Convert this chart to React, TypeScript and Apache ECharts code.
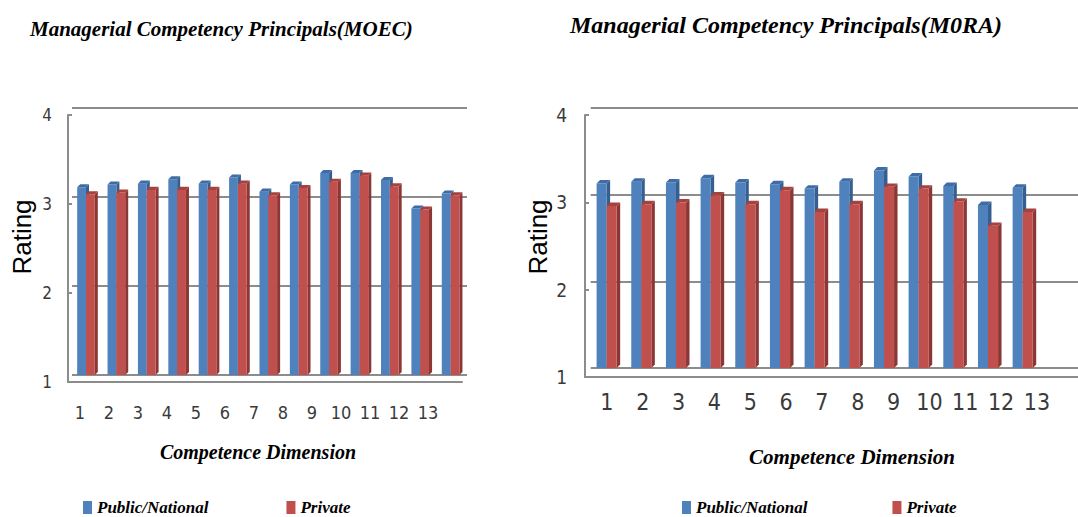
import React, { useEffect, useRef } from "react";
import * as echarts from "echarts";

const categories = ["1", "2", "3", "4", "5", "6", "7", "8", "9", "10", "11", "12", "13"];
const moecPublic = [3.11, 3.14, 3.15, 3.2, 3.15, 3.22, 3.06, 3.14, 3.27, 3.27, 3.19, 2.87, 3.04];
const moecPrivate = [3.03, 3.05, 3.08, 3.08, 3.08, 3.15, 3.02, 3.1, 3.17, 3.24, 3.12, 2.86, 3.02];
const moraPublic = [3.13, 3.15, 3.14, 3.19, 3.14, 3.12, 3.07, 3.15, 3.28, 3.21, 3.1, 2.88, 3.08];
const moraPrivate = [2.87, 2.89, 2.91, 2.99, 2.89, 3.05, 2.8, 2.89, 3.09, 3.07, 2.92, 2.64, 2.8];
const seriesNames = ["Public/National", "Private"];
const titles = ["Managerial Competency Principals(MOEC)", "Managerial Competency Principals(M0RA)"];

const PAL = [
  { front: "#4F81BD", side: "#365f91", top: "#3f6ca6" },
  { front: "#C0504D", side: "#8c3735", top: "#a8413e" },
];

const SERIF = "'Liberation Serif', 'Times New Roman', serif";
const NARROW = "'Liberation Sans Narrow', 'DejaVu Sans Condensed', sans-serif";
const SANS = "'Liberation Sans', 'Open Sans', sans-serif";

function bar3d(idx: number) {
  return (params: any, api: any) => {
    const cat = api.value(0);
    const v = api.value(1);
    const bw = api.size([1, 0])[0];
    const top = api.coord([cat, v]);
    const base = api.coord([cat, 1]);
    const w = bw * 0.29;
    const d = bw * 0.1;
    const x0 = top[0] - bw * 0.33 + idx * w;
    const c = PAL[idx];
    return {
      type: "group",
      children: [
        {
          type: "polygon",
          shape: { points: [[x0 + w, top[1]], [x0 + w + d, top[1] - d], [x0 + w + d, base[1] - d], [x0 + w, base[1]]] },
          style: { fill: c.side },
        },
        {
          type: "rect",
          shape: { x: x0, y: top[1], width: w, height: base[1] - top[1] },
          style: { fill: c.front },
        },
        {
          type: "polygon",
          shape: { points: [[x0, top[1]], [x0 + d, top[1] - d], [x0 + w + d, top[1] - d], [x0 + w, top[1]]] },
          style: { fill: c.top },
        },
      ],
    };
  };
}

function barSeries(name: string, idx: number, axis: number, values: number[]) {
  return {
    type: "custom",
    name,
    xAxisIndex: axis,
    yAxisIndex: axis,
    itemStyle: { color: PAL[idx].front },
    encode: { x: 0, y: 1 },
    data: values.map((v, i) => [i + 1, v]),
    renderItem: bar3d(idx),
  };
}

const GRAY = "#8c8c8c";

export default function App() {
  const ref = useRef<HTMLDivElement>(null);
  useEffect(() => {
    if (!ref.current) return;
    const chart = echarts.init(ref.current, undefined, { renderer: "svg" });
    const backX = (grid: number, max: number) => ({ type: "value", gridIndex: grid, min: 0.5, max, show: false });
    const backY = (grid: number) => ({
      type: "value", gridIndex: grid, min: 1, max: 4, interval: 1,
      axisLine: { show: false }, axisTick: { show: false }, axisLabel: { show: false },
      splitLine: { show: true, lineStyle: { color: GRAY, width: 2 } },
    });
    const frontX = (grid: number) => ({
      type: "value", gridIndex: grid, min: 0, max: 1,
      axisLine: { show: true, lineStyle: { color: GRAY, width: 2 } },
      axisTick: { show: false }, axisLabel: { show: false }, splitLine: { show: false },
    });
    const frontY = (grid: number, fs: number, margin: number) => ({
      type: "value", gridIndex: grid, min: 1, max: 4, interval: 1,
      axisLine: { show: true, lineStyle: { color: GRAY, width: 2 } },
      axisTick: { show: true, inside: true, length: 4, lineStyle: { color: GRAY, width: 2 } },
      axisLabel: { fontSize: fs, margin, color: "#3a3a3a", fontFamily: NARROW },
      splitLine: { show: false },
    });
    const labelX = (grid: number, fs: number, margin: number) => ({
      type: "category", gridIndex: grid, data: categories,
      axisLine: { show: false }, axisTick: { show: false },
      axisLabel: { fontSize: fs, margin, color: "#3a3a3a", fontFamily: NARROW, interval: 0 },
    });
    const hiddenY = (grid: number) => ({ type: "value", gridIndex: grid, show: false, min: 0, max: 1 });
    const legendText = { fontFamily: SERIF, fontWeight: "bold", fontStyle: "italic", fontSize: 17, color: "#000" };

    chart.setOption({
      animation: false,
      backgroundColor: "#ffffff",
      grid: [
        { left: 72, top: 108, width: 395, height: 267 },
        { left: 68, top: 115, width: 394, height: 267 },
        { left: 65.5, top: 115, width: 377, height: 267 },
        { left: 590.7, top: 108, width: 487.3, height: 260 },
        { left: 585, top: 115, width: 493, height: 262 },
        { left: 589, top: 115, width: 465.8, height: 262 },
      ],
      xAxis: [
        backX(0, 13.5), frontX(1), labelX(2, 18, 21),
        backX(3, 0.5 + 487.3 / 34.67), frontX(4), labelX(5, 23, 13),
      ],
      yAxis: [
        backY(0), frontY(1, 17, 16), hiddenY(2),
        backY(3), frontY(4, 19, 18), hiddenY(5),
      ],
      legend: [
        { left: 83, top: 499, data: seriesNames, icon: "rect", itemWidth: 9, itemHeight: 13, itemGap: 78, selectedMode: false, textStyle: legendText, padding: 0 },
        { left: 682, top: 499, data: seriesNames, icon: "rect", itemWidth: 9, itemHeight: 13, itemGap: 85, selectedMode: false, textStyle: legendText, padding: 0 },
      ],
      graphic: [
        { type: "text", left: 30, top: 18, style: { text: titles[0], font: `italic bold 21px ${SERIF}`, fill: "#000" } },
        { type: "text", left: 570, top: 13, style: { text: titles[1], font: `italic bold 24px ${SERIF}`, fill: "#000" } },
        { type: "text", x: 22, y: 237, rotation: Math.PI / 2, style: { text: "Rating", font: `26px ${SANS}`, fill: "#000", align: "center", verticalAlign: "middle" } },
        { type: "text", x: 538, y: 237, rotation: Math.PI / 2, style: { text: "Rating", font: `26px ${SANS}`, fill: "#000", align: "center", verticalAlign: "middle" } },
        { type: "text", x: 258, y: 452, style: { text: "Competence Dimension", font: `italic bold 20px ${SERIF}`, fill: "#000", align: "center", verticalAlign: "middle" } },
        { type: "text", x: 852, y: 457, style: { text: "Competence Dimension", font: `italic bold 21px ${SERIF}`, fill: "#000", align: "center", verticalAlign: "middle" } },
      ],
      series: [
        barSeries(seriesNames[0], 0, 0, moecPublic),
        barSeries(seriesNames[1], 1, 0, moecPrivate),
        barSeries(seriesNames[0], 0, 3, moraPublic),
        barSeries(seriesNames[1], 1, 3, moraPrivate),
      ],
    });
    return () => chart.dispose();
  }, []);
  return <div ref={ref} style={{ position: "fixed", left: 0, top: 0, width: 1078, height: 517 }} />;
}
